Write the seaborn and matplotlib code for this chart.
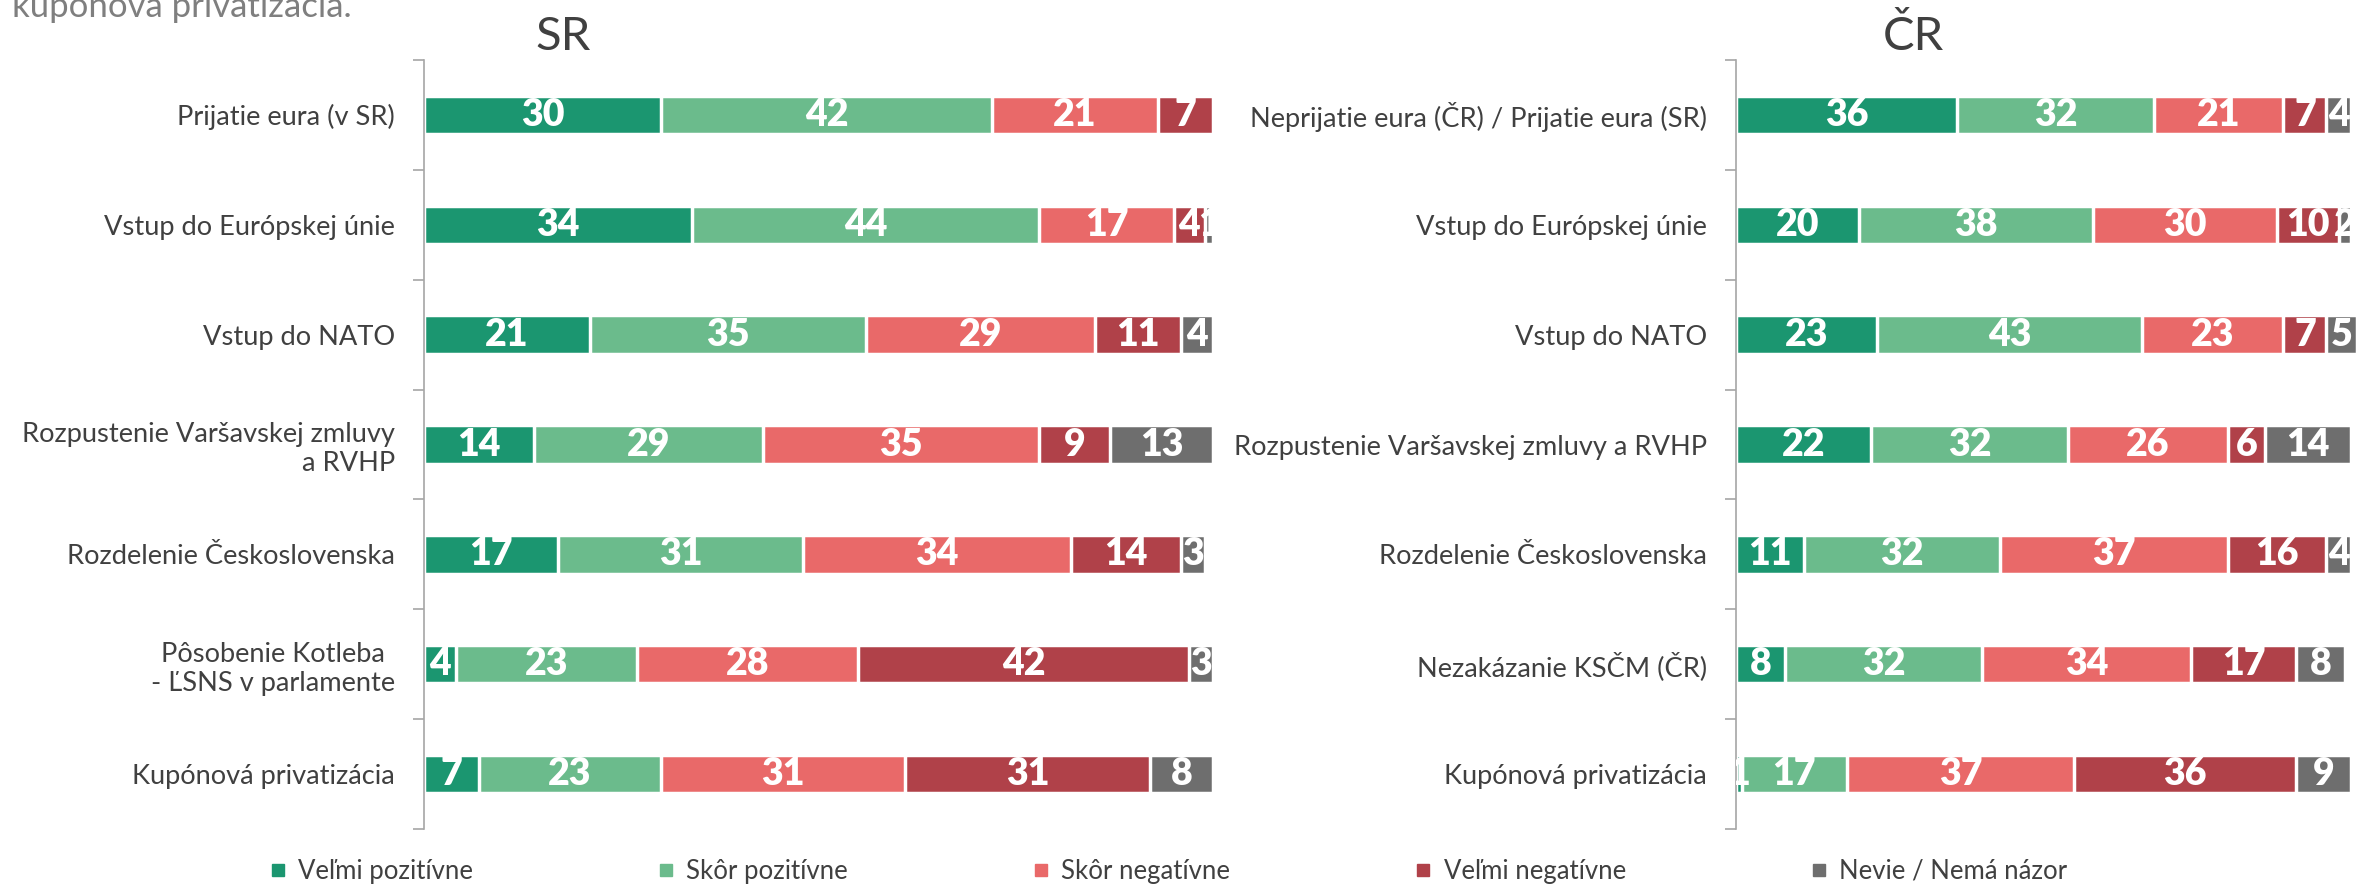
import numpy as np
import pandas as pd
import matplotlib
matplotlib.use('Agg')
import matplotlib.pyplot as plt
from matplotlib.lines import Line2D
import seaborn as sns

sns.set_theme(style='white')
plt.rcParams['font.family'] = ['Lato', 'DejaVu Sans']

odpovede = ['Veľmi pozitívne', 'Skôr pozitívne', 'Skôr negatívne', 'Veľmi negatívne', 'Nevie / Nemá názor']
farby = ['#1B9670', '#6BBB8C', '#E96969', '#B04149', '#6E6E6E']

sr_kategorie = ['Prijatie eura (v SR)', 'Vstup do Európskej únie', 'Vstup do NATO',
                'Rozpustenie Varšavskej zmluvy\na RVHP', 'Rozdelenie Československa',
                'Pôsobenie Kotleba\n- ĽSNS v parlamente', 'Kupónová privatizácia']
sr_velmi_poz = [30, 34, 21, 14, 17, 4, 7]
sr_skor_poz = [42, 44, 35, 29, 31, 23, 23]
sr_skor_neg = [21, 17, 29, 35, 34, 28, 31]
sr_velmi_neg = [7, 4, 11, 9, 14, 42, 31]
sr_nevie = [0, 1, 4, 13, 3, 3, 8]

cr_kategorie = ['Neprijatie eura (ČR) / Prijatie eura (SR)', 'Vstup do Európskej únie', 'Vstup do NATO',
                'Rozpustenie Varšavskej zmluvy a RVHP', 'Rozdelenie Československa',
                'Nezakázanie KSČM (ČR)', 'Kupónová privatizácia']
cr_velmi_poz = [36, 20, 23, 22, 11, 8, 1]
cr_skor_poz = [32, 38, 43, 32, 32, 32, 17]
cr_skor_neg = [21, 30, 23, 26, 37, 34, 37]
cr_velmi_neg = [7, 10, 7, 6, 16, 17, 36]
cr_nevie = [4, 2, 5, 14, 4, 8, 9]

W, H = 2356, 889
SEDA = '#404040'
OS = '#A6A6A6'


def kresli(ax, kategorie, hodnoty, xmax):
    df = pd.DataFrame(dict(zip(odpovede, hodnoty)), index=kategorie)
    kum = df.cumsum(axis=1)
    # stacked bars: longest cumulative first, shorter ones drawn on top
    for i in range(len(odpovede) - 1, -1, -1):
        d = pd.DataFrame({'kategoria': kategorie, 'hodnota': kum.iloc[:, i].values})
        sns.barplot(data=d, x='hodnota', y='kategoria', orient='h', color=farby[i],
                    saturation=1, width=0.35, edgecolor='white', linewidth=2.5,
                    errorbar=None, ax=ax)
    for i, odp in enumerate(odpovede):
        for j, kat in enumerate(kategorie):
            v = df.loc[kat, odp]
            if v > 0:
                ax.text(kum.loc[kat, odp] - v / 2, j, str(v), ha='center', va='center',
                        color='white', fontweight='heavy', fontsize=27, clip_on=True)
    ax.set_xlim(0, xmax)
    ax.set_ylim(len(kategorie) - 0.5, -0.5)
    ax.set_xticks([])
    ax.set_xlabel('')
    ax.set_ylabel('')
    ax.set_yticks(range(len(kategorie)))
    ax.set_yticklabels(kategorie)
    ax.set_yticks(np.arange(-0.5, len(kategorie), 1), minor=True)
    ax.tick_params(axis='y', which='major', length=0, pad=21, labelsize=19.6, labelcolor=SEDA)
    ax.tick_params(axis='y', which='minor', left=True, length=8, width=1.2, color=OS, direction='out')
    for s in ['top', 'right', 'bottom']:
        ax.spines[s].set_visible(False)
    ax.spines['left'].set_color(OS)
    ax.spines['left'].set_linewidth(1.2)


fig = plt.figure(figsize=(W / 100, H / 100), dpi=100)
ax_sr = fig.add_axes([424 / W, 1 - 829 / H, (1217 - 424) / W, (829 - 60) / H])
ax_cr = fig.add_axes([1736 / W, 1 - 829 / H, (W - 1736) / W, (829 - 60) / H])

kresli(ax_sr, sr_kategorie, [sr_velmi_poz, sr_skor_poz, sr_skor_neg, sr_velmi_neg, sr_nevie], 100.5)
kresli(ax_cr, cr_kategorie, [cr_velmi_poz, cr_skor_poz, cr_skor_neg, cr_velmi_neg, cr_nevie], 100.8)

for lab in ax_sr.get_yticklabels():
    if lab.get_text().startswith('Rozpustenie'):
        lab.set_multialignment('right')
    elif lab.get_text().startswith('Pôsobenie'):
        lab.set_multialignment('center')

fig.text(563 / W, 1 - 37 / H, 'SR', ha='center', va='center', fontsize=34, color=SEDA)
fig.text(1913 / W, 1 - 37 / H, 'ČR', ha='center', va='center', fontsize=34, color=SEDA)
# caption text cut off at the top edge, as in the original
fig.text(12 / W, 1 - 17 / H, 'kupónová privatizácia.', ha='left', va='baseline',
         fontsize=25, color='#7F7F7F')

handles = [Line2D([], [], marker='s', linestyle='', markersize=8, color=c) for c in farby]
fig.legend(handles, odpovede, loc='center', bbox_to_anchor=(0.496, 0.02), ncol=5, frameon=False,
           fontsize=18.5, columnspacing=7.2, handlelength=0.6, handletextpad=0.5, labelcolor=SEDA)

fig.savefig('out.png', dpi=100)
